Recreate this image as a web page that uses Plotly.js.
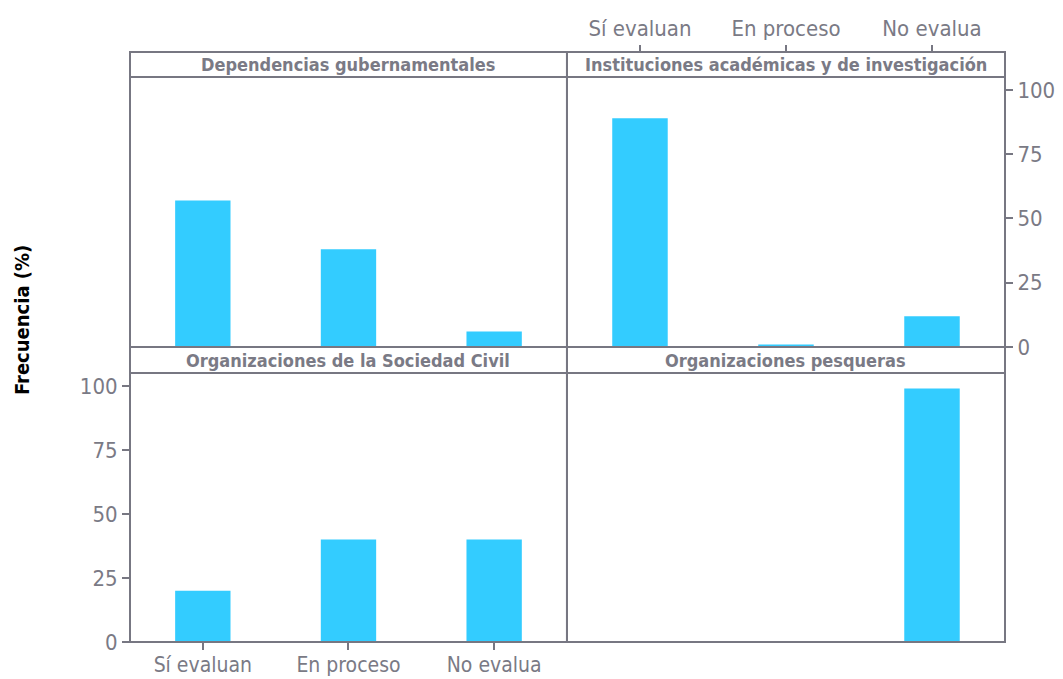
<!DOCTYPE html>
<html><head><meta charset="utf-8">
<script src="https://cdn.plot.ly/plotly-3.0.1.min.js"></script>
<style>body{margin:0;background:#fff}#c{width:1063px;height:679px}</style>
</head><body><div id="c"></div>
<script>
const categories = ["Sí evaluan", "En proceso", "No evalua"];
const panels = ["Dependencias gubernamentales", "Instituciones académicas y de investigación", "Organizaciones de la Sociedad Civil", "Organizaciones pesqueras"];
const gubernamentales = [57, 38, 6];
const academicas = [89, 1, 12];
const sociedadCivil = [20, 40, 40];
const pesqueras = [0, 0, 99];
const yTicks = [0, 25, 50, 75, 100];
const yTitle = "Frecuencia (%)";

const seriesList = [gubernamentales, academicas, sociedadCivil, pesqueras];
const gray = "#777782";
const txt = "#7a7a85";
const barColor = "#33CCFF";
const narrow = "Liberation Sans Narrow, Arial Narrow, DejaVu Sans Condensed, sans-serif";

const colX = [[0, 0.4994], [0.4994, 1]];
const rowPlot = [[0.5, 0.9576], [0, 0.4559]];
const rowStrip = [[0.9576, 1], [0.4559, 0.5]];

const traces = seriesList.map((vals, i) => ({
  type: "bar", x: categories, y: vals,
  xaxis: i === 0 ? "x" : "x" + (i + 1),
  yaxis: i === 0 ? "y" : "y" + (i + 1),
  marker: {color: barColor, line: {width: 0}},
  width: 0.38, hoverinfo: "skip"
}));

const layout = {
  width: 1063, height: 679,
  margin: {l: 130, r: 58, t: 52, b: 37},
  paper_bgcolor: "#fff", plot_bgcolor: "#fff",
  showlegend: false,
  font: {family: narrow, color: txt},
  shapes: [], annotations: []
};

const tf = {size: 22, color: txt, family: narrow};
const tfb = {size: 21, color: txt, family: narrow};
for (let i = 0; i < 4; i++) {
  const r = Math.floor(i / 2), c = i % 2;
  const xs = i === 0 ? "" : String(i + 1);
  const xa = {
    domain: colX[c], anchor: "y" + xs, type: "category",
    range: [-0.5, 2.5], showgrid: false, zeroline: false,
    showline: false, showticklabels: false, ticks: "", fixedrange: true
  };
  const ya = {
    domain: rowPlot[r], anchor: "x" + xs, range: [0, 105],
    showgrid: false, zeroline: false, showline: false,
    showticklabels: false, ticks: "", tickvals: yTicks, fixedrange: true
  };
  if (i === 1) {
    Object.assign(xa, {anchor: "free", position: 1, side: "top", showticklabels: true,
      ticks: "outside", ticklen: 7, tickwidth: 2, tickcolor: gray, tickfont: tf});
    Object.assign(ya, {side: "right", showticklabels: true, ticks: "outside",
      ticklen: 7, tickwidth: 2, tickcolor: gray, tickfont: tf});
  }
  if (i === 2) {
    Object.assign(xa, {showticklabels: true, ticks: "outside", ticklen: 7,
      tickwidth: 2, tickcolor: gray, tickfont: tfb, ticklabelstandoff: -3});
    Object.assign(ya, {side: "left", showticklabels: true, ticks: "outside",
      ticklen: 7, tickwidth: 2, tickcolor: gray, tickfont: tf});
  }
  layout["xaxis" + xs] = xa;
  layout["yaxis" + xs] = ya;

  layout.shapes.push({type: "rect", xref: "paper", yref: "paper",
    x0: colX[c][0], x1: colX[c][1], y0: rowPlot[r][0], y1: rowPlot[r][1],
    line: {color: gray, width: 2}, fillcolor: "rgba(0,0,0,0)"});
  layout.shapes.push({type: "rect", xref: "paper", yref: "paper",
    x0: colX[c][0], x1: colX[c][1], y0: rowStrip[r][0], y1: rowStrip[r][1],
    line: {color: gray, width: 2}, fillcolor: "rgba(0,0,0,0)"});
  layout.annotations.push({xref: "paper", yref: "paper",
    x: (colX[c][0] + colX[c][1]) / 2, y: (rowStrip[r][0] + rowStrip[r][1]) / 2,
    text: "<b>" + panels[i] + "</b>", showarrow: false,
    xanchor: "center", yanchor: "middle",
    font: {size: 18, color: txt, family: narrow}});
}

layout.annotations.push({xref: "paper", yref: "paper", x: -0.1234, y: 0.5458,
  text: "<b>" + yTitle + "</b>", textangle: -90, showarrow: false,
  xanchor: "center", yanchor: "middle",
  font: {size: 20, color: "#000", family: narrow}});

Plotly.newPlot("c", traces, layout, {staticPlot: true, displayModeBar: false});
</script></body></html>
